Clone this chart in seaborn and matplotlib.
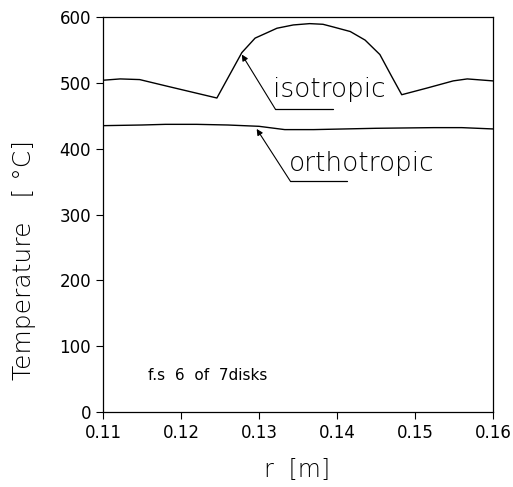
import numpy as np
import pandas as pd
import matplotlib
matplotlib.use('Agg')
import matplotlib.pyplot as plt
import seaborn as sns

# datos
r_iso = [0.110, 0.1122, 0.1147, 0.1182, 0.1246, 0.1278, 0.1295, 0.1310, 0.1323,
         0.1344, 0.1365, 0.1382, 0.1395, 0.1417, 0.1436, 0.1455, 0.1470, 0.1483,
         0.1515, 0.1549, 0.1567, 0.160]
T_iso = [504, 506, 505, 495, 477, 546, 568, 576, 583,
         588, 590, 589, 585, 578, 565, 543, 510, 482,
         492, 503, 506, 503]

r_orto = [0.110, 0.115, 0.118, 0.122, 0.126, 0.130, 0.1333, 0.137, 0.141,
          0.145, 0.1524, 0.156, 0.160]
T_orto = [435, 436, 437, 437, 436, 434, 429, 429, 430, 431, 432, 432, 430]

x_ticks = [0.11, 0.12, 0.13, 0.14, 0.15, 0.16]
y_ticks = [0, 100, 200, 300, 400, 500, 600]

df = pd.concat([
    pd.DataFrame({'r': r_iso, 'T': T_iso, 'caso': 'isotropic'}),
    pd.DataFrame({'r': r_orto, 'T': T_orto, 'caso': 'orthotropic'}),
])

sns.set_style('ticks')
plt.rcParams['font.family'] = ['DejaVu Sans']
plt.rcParams['text.color'] = 'black'
plt.rcParams['axes.labelcolor'] = 'black'

fig = plt.figure(figsize=(5.13, 4.87), dpi=100)
ax = fig.add_axes([0.2008, 0.154, 0.7602, 0.811])

sns.lineplot(data=df, x='r', y='T', units='caso', estimator=None,
             color='black', lw=1.0, sort=False, ax=ax)

ax.set_xlim(0.11, 0.16)
ax.set_ylim(0, 600)
ax.set_xticks(x_ticks)
ax.set_xticklabels([f'{v:.2f}' for v in x_ticks])
ax.set_yticks(y_ticks)
ax.tick_params(direction='out', length=5, width=0.8, labelsize=12,
               colors='black', top=False, right=False)
for s in ax.spines.values():
    s.set_visible(True)
    s.set_linewidth(0.9)
    s.set_color('black')

ax.set_xlabel('r  [m]', fontsize=17, fontweight='light')
ax.set_ylabel('Temperature   [ °C]', fontsize=18, fontweight='light')
ax.xaxis.set_label_coords(0.497, -0.117)
ax.yaxis.set_label_coords(-0.172, 0.385)

# etiquetas con flecha y subrayado
flecha = dict(arrowstyle='-|>', color='black', lw=0.8, mutation_scale=9,
              shrinkA=0, shrinkB=0)
ax.annotate('', xy=(0.1278, 543), xytext=(0.1321, 460), arrowprops=flecha)
ax.plot([0.1321, 0.1395], [460, 460], color='black', lw=0.9)
ax.text(0.1318, 490, 'isotropic', fontsize=19, fontweight='light',
        va='center', ha='left')

ax.annotate('', xy=(0.1297, 430), xytext=(0.1340, 351), arrowprops=flecha)
ax.plot([0.1340, 0.1413], [351, 351], color='black', lw=0.9)
ax.text(0.1338, 378, 'orthotropic', fontsize=19, fontweight='light',
        va='center', ha='left')

ax.text(0.1158, 55, 'f.s  6  of  7disks', fontsize=11, va='center', ha='left')

fig.savefig('out.png', dpi=100)
